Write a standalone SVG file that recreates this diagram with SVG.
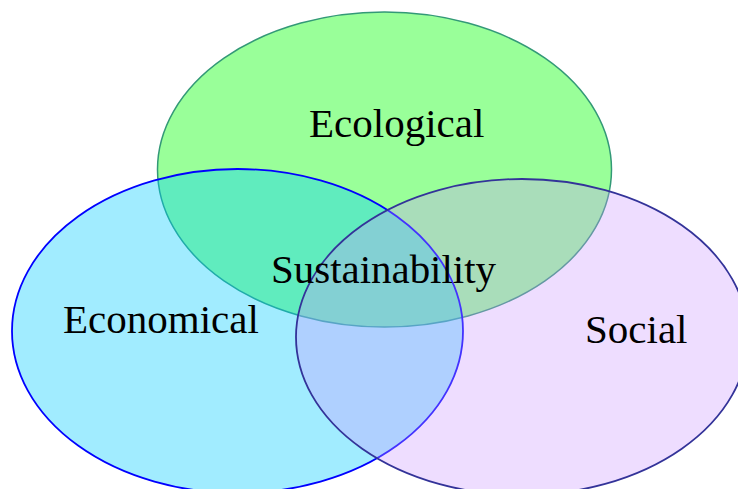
<svg xmlns="http://www.w3.org/2000/svg" width="738" height="489" viewBox="0 0 738 489">
<style>
.lbl{font-family:"Liberation Serif","Times New Roman",serif;font-size:41px;fill:#000}
</style>
<rect width="738" height="489" fill="#fff"/>
<g id="ecological">
<ellipse cx="384.5" cy="169.5" rx="227" ry="157.5" fill="#00ff00" fill-opacity="0.4" stroke="#339977" stroke-width="1.5"/>
</g>
<g id="economical">
<ellipse cx="237.5" cy="331" rx="225.5" ry="162" fill="#00ccff" fill-opacity="0.37" stroke="#0000ff" stroke-width="1.8"/>
</g>
<g id="social">
<ellipse cx="522" cy="337" rx="226" ry="158" fill="#cc99ff" fill-opacity="0.33" stroke="#333399" stroke-width="1.8"/>
</g>
<g id="labels">
<text class="lbl" x="309" y="137">Ecological</text>
<text class="lbl" x="63" y="333">Economical</text>
<text class="lbl" x="585" y="343">Social</text>
<text class="lbl" x="271" y="283" textLength="225" lengthAdjust="spacingAndGlyphs">Sustainability</text>
</g>
</svg>
